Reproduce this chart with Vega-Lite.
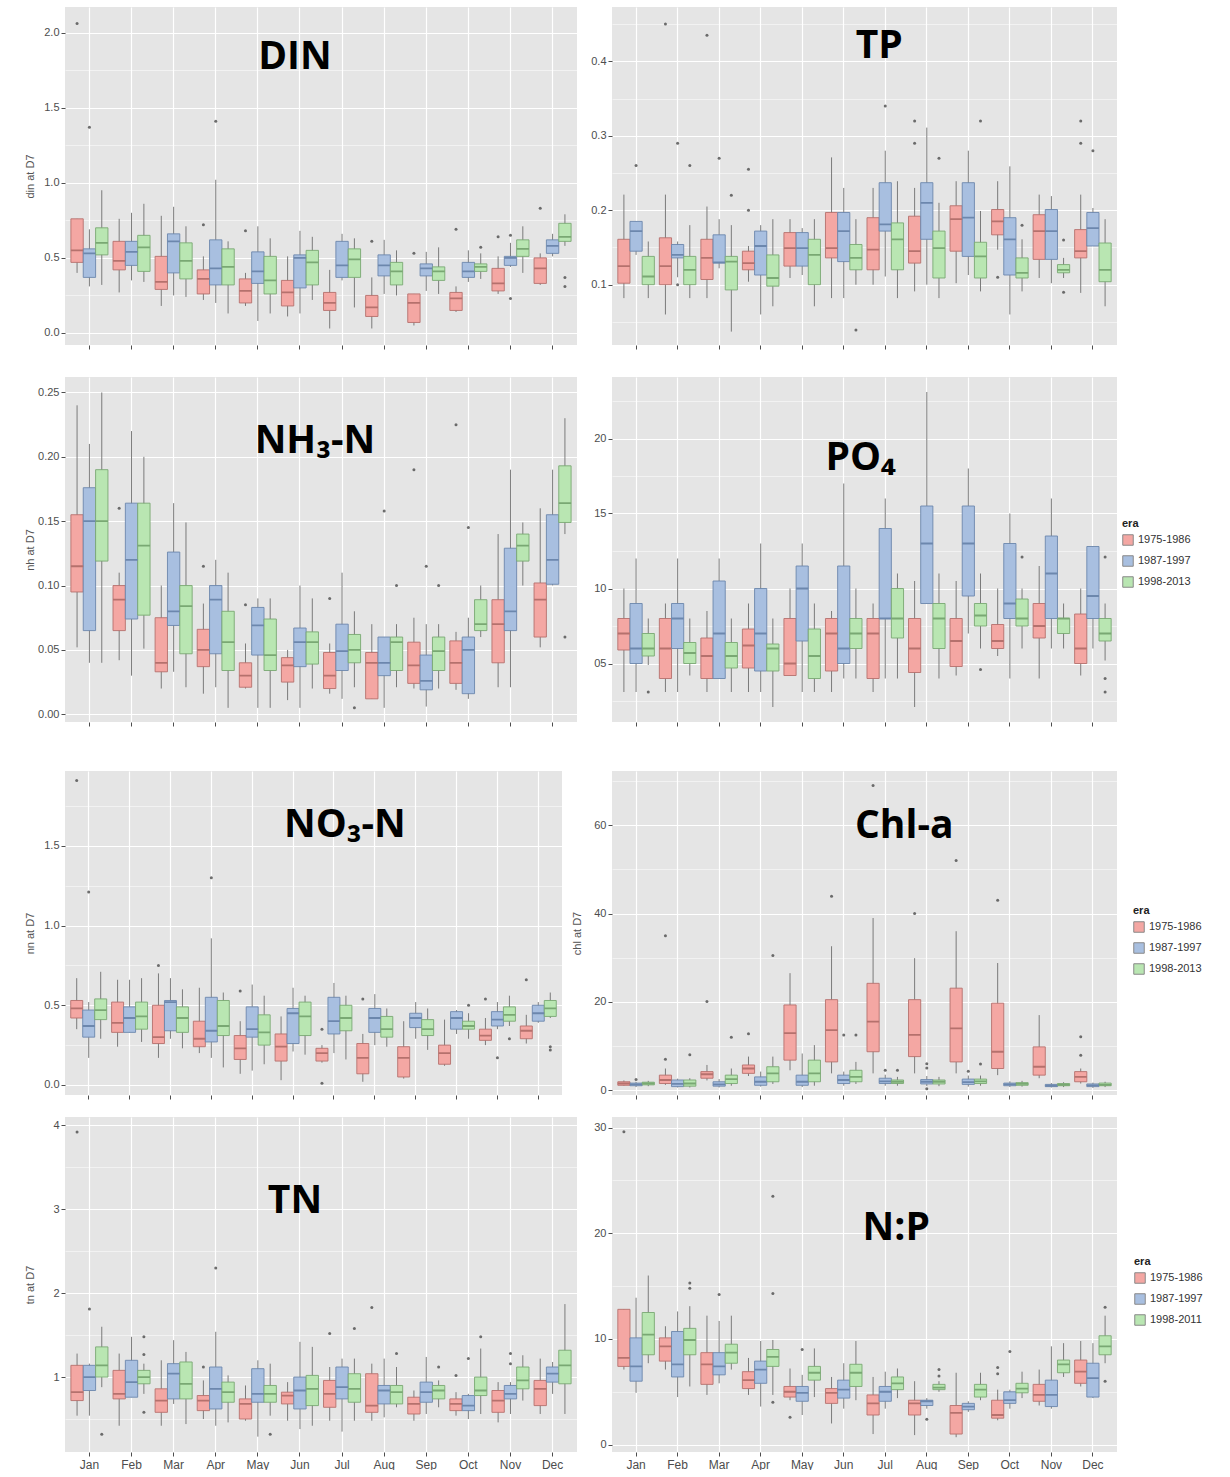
{
"$schema":"https://vega.github.io/schema/vega-lite/v6.json",
"background":"white",
"padding":{"left":24,"top":7,"right":0,"bottom":0},
"config":{
 "view":{"fill":"#E5E5E5","stroke":null},
 "axis":{"domain":false,"grid":true,"gridColor":"#FFFFFF","tickColor":"#4D4D4D","tickSize":4,"labelColor":"#4D4D4D","labelFont":"Liberation Sans","labelFontSize":11,"titleFont":"Liberation Sans","titleFontSize":11,"titleFontWeight":"normal","titleColor":"#555555","labelPadding":2},
 "axisY":{"minExtent":26,"maxExtent":26,"titlePadding":4},
 "axisX":{"gridWidth":1.2,"labels":false,"labelFontSize":12,"labelAngle":0,"labelOverlap":false},
 "legend":{"titleFont":"Liberation Sans","titleFontSize":11,"titleFontWeight":"bold","titleColor":"#222","labelFont":"Liberation Sans","labelFontSize":11,"labelColor":"#333","symbolType":"square","symbolSize":110,"symbolStrokeColor":"#888","symbolStrokeWidth":1,"rowPadding":5}
},
"datasets":{
"box":[
{"p":"DIN","m":"Jan","e":"1975-1986","lo":0.40,"q1":0.47,"md":0.55,"q3":0.76,"hi":0.76},
{"p":"DIN","m":"Jan","e":"1987-1997","lo":0.31,"q1":0.37,"md":0.53,"q3":0.56,"hi":0.69},
{"p":"DIN","m":"Jan","e":"1998-2013","lo":0.32,"q1":0.52,"md":0.60,"q3":0.70,"hi":0.95},
{"p":"DIN","m":"Feb","e":"1975-1986","lo":0.27,"q1":0.42,"md":0.48,"q3":0.61,"hi":0.76},
{"p":"DIN","m":"Feb","e":"1987-1997","lo":0.35,"q1":0.45,"md":0.54,"q3":0.61,"hi":0.80},
{"p":"DIN","m":"Feb","e":"1998-2013","lo":0.34,"q1":0.41,"md":0.57,"q3":0.65,"hi":0.86},
{"p":"DIN","m":"Mar","e":"1975-1986","lo":0.18,"q1":0.29,"md":0.34,"q3":0.51,"hi":0.78},
{"p":"DIN","m":"Mar","e":"1987-1997","lo":0.25,"q1":0.40,"md":0.61,"q3":0.66,"hi":0.84},
{"p":"DIN","m":"Mar","e":"1998-2013","lo":0.24,"q1":0.36,"md":0.48,"q3":0.60,"hi":0.71},
{"p":"DIN","m":"Apr","e":"1975-1986","lo":0.22,"q1":0.26,"md":0.36,"q3":0.42,"hi":0.51},
{"p":"DIN","m":"Apr","e":"1987-1997","lo":0.20,"q1":0.32,"md":0.43,"q3":0.62,"hi":1.02},
{"p":"DIN","m":"Apr","e":"1998-2013","lo":0.13,"q1":0.32,"md":0.44,"q3":0.56,"hi":0.61},
{"p":"DIN","m":"May","e":"1975-1986","lo":0.18,"q1":0.20,"md":0.28,"q3":0.36,"hi":0.40},
{"p":"DIN","m":"May","e":"1987-1997","lo":0.08,"q1":0.33,"md":0.41,"q3":0.54,"hi":0.71},
{"p":"DIN","m":"May","e":"1998-2013","lo":0.13,"q1":0.26,"md":0.35,"q3":0.51,"hi":0.63},
{"p":"DIN","m":"Jun","e":"1975-1986","lo":0.11,"q1":0.18,"md":0.27,"q3":0.35,"hi":0.51},
{"p":"DIN","m":"Jun","e":"1987-1997","lo":0.13,"q1":0.30,"md":0.50,"q3":0.52,"hi":0.68},
{"p":"DIN","m":"Jun","e":"1998-2013","lo":0.22,"q1":0.32,"md":0.47,"q3":0.55,"hi":0.64},
{"p":"DIN","m":"Jul","e":"1975-1986","lo":0.03,"q1":0.15,"md":0.20,"q3":0.27,"hi":0.42},
{"p":"DIN","m":"Jul","e":"1987-1997","lo":0.35,"q1":0.37,"md":0.45,"q3":0.61,"hi":0.66},
{"p":"DIN","m":"Jul","e":"1998-2013","lo":0.17,"q1":0.37,"md":0.49,"q3":0.56,"hi":0.63},
{"p":"DIN","m":"Aug","e":"1975-1986","lo":0.03,"q1":0.11,"md":0.17,"q3":0.25,"hi":0.37},
{"p":"DIN","m":"Aug","e":"1987-1997","lo":0.26,"q1":0.38,"md":0.45,"q3":0.52,"hi":0.62},
{"p":"DIN","m":"Aug","e":"1998-2013","lo":0.25,"q1":0.32,"md":0.41,"q3":0.47,"hi":0.55},
{"p":"DIN","m":"Sep","e":"1975-1986","lo":0.05,"q1":0.07,"md":0.20,"q3":0.26,"hi":0.26},
{"p":"DIN","m":"Sep","e":"1987-1997","lo":0.28,"q1":0.38,"md":0.43,"q3":0.46,"hi":0.54},
{"p":"DIN","m":"Sep","e":"1998-2013","lo":0.26,"q1":0.35,"md":0.41,"q3":0.44,"hi":0.57},
{"p":"DIN","m":"Oct","e":"1975-1986","lo":0.14,"q1":0.15,"md":0.23,"q3":0.27,"hi":0.31},
{"p":"DIN","m":"Oct","e":"1987-1997","lo":0.34,"q1":0.37,"md":0.41,"q3":0.47,"hi":0.55},
{"p":"DIN","m":"Oct","e":"1998-2013","lo":0.36,"q1":0.41,"md":0.44,"q3":0.46,"hi":0.53},
{"p":"DIN","m":"Nov","e":"1975-1986","lo":0.26,"q1":0.28,"md":0.33,"q3":0.43,"hi":0.51},
{"p":"DIN","m":"Nov","e":"1987-1997","lo":0.44,"q1":0.45,"md":0.50,"q3":0.51,"hi":0.60},
{"p":"DIN","m":"Nov","e":"1998-2013","lo":0.40,"q1":0.51,"md":0.56,"q3":0.62,"hi":0.71},
{"p":"DIN","m":"Dec","e":"1975-1986","lo":0.32,"q1":0.33,"md":0.43,"q3":0.50,"hi":0.53},
{"p":"DIN","m":"Dec","e":"1987-1997","lo":0.51,"q1":0.53,"md":0.58,"q3":0.62,"hi":0.66},
{"p":"DIN","m":"Dec","e":"1998-2013","lo":0.58,"q1":0.61,"md":0.64,"q3":0.73,"hi":0.79},
{"p":"TP","m":"Jan","e":"1975-1986","lo":0.082,"q1":0.102,"md":0.125,"q3":0.161,"hi":0.221},
{"p":"TP","m":"Jan","e":"1987-1997","lo":0.140,"q1":0.145,"md":0.172,"q3":0.185,"hi":0.185},
{"p":"TP","m":"Jan","e":"1998-2013","lo":0.082,"q1":0.100,"md":0.111,"q3":0.138,"hi":0.158},
{"p":"TP","m":"Feb","e":"1975-1986","lo":0.060,"q1":0.100,"md":0.125,"q3":0.163,"hi":0.221},
{"p":"TP","m":"Feb","e":"1987-1997","lo":0.110,"q1":0.136,"md":0.140,"q3":0.154,"hi":0.158},
{"p":"TP","m":"Feb","e":"1998-2013","lo":0.082,"q1":0.100,"md":0.120,"q3":0.138,"hi":0.180},
{"p":"TP","m":"Mar","e":"1975-1986","lo":0.082,"q1":0.107,"md":0.136,"q3":0.161,"hi":0.205},
{"p":"TP","m":"Mar","e":"1987-1997","lo":0.122,"q1":0.129,"md":0.130,"q3":0.167,"hi":0.188},
{"p":"TP","m":"Mar","e":"1998-2013","lo":0.037,"q1":0.093,"md":0.131,"q3":0.138,"hi":0.180},
{"p":"TP","m":"Apr","e":"1975-1986","lo":0.104,"q1":0.120,"md":0.129,"q3":0.145,"hi":0.152},
{"p":"TP","m":"Apr","e":"1987-1997","lo":0.060,"q1":0.113,"md":0.152,"q3":0.172,"hi":0.180},
{"p":"TP","m":"Apr","e":"1998-2013","lo":0.071,"q1":0.098,"md":0.109,"q3":0.140,"hi":0.188},
{"p":"TP","m":"May","e":"1975-1986","lo":0.109,"q1":0.125,"md":0.149,"q3":0.170,"hi":0.188},
{"p":"TP","m":"May","e":"1987-1997","lo":0.113,"q1":0.125,"md":0.149,"q3":0.170,"hi":0.176},
{"p":"TP","m":"May","e":"1998-2013","lo":0.071,"q1":0.100,"md":0.140,"q3":0.161,"hi":0.188},
{"p":"TP","m":"Jun","e":"1975-1986","lo":0.082,"q1":0.136,"md":0.149,"q3":0.197,"hi":0.271},
{"p":"TP","m":"Jun","e":"1987-1997","lo":0.082,"q1":0.131,"md":0.172,"q3":0.197,"hi":0.230},
{"p":"TP","m":"Jun","e":"1998-2013","lo":0.100,"q1":0.120,"md":0.136,"q3":0.154,"hi":0.188},
{"p":"TP","m":"Jul","e":"1975-1986","lo":0.100,"q1":0.120,"md":0.147,"q3":0.190,"hi":0.230},
{"p":"TP","m":"Jul","e":"1987-1997","lo":0.111,"q1":0.172,"md":0.181,"q3":0.237,"hi":0.280},
{"p":"TP","m":"Jul","e":"1998-2013","lo":0.082,"q1":0.120,"md":0.161,"q3":0.183,"hi":0.239},
{"p":"TP","m":"Aug","e":"1975-1986","lo":0.091,"q1":0.129,"md":0.145,"q3":0.192,"hi":0.230},
{"p":"TP","m":"Aug","e":"1987-1997","lo":0.100,"q1":0.161,"md":0.210,"q3":0.237,"hi":0.311},
{"p":"TP","m":"Aug","e":"1998-2013","lo":0.082,"q1":0.109,"md":0.149,"q3":0.172,"hi":0.210},
{"p":"TP","m":"Sep","e":"1975-1986","lo":0.102,"q1":0.145,"md":0.188,"q3":0.206,"hi":0.239},
{"p":"TP","m":"Sep","e":"1987-1997","lo":0.113,"q1":0.138,"md":0.190,"q3":0.237,"hi":0.280},
{"p":"TP","m":"Sep","e":"1998-2013","lo":0.091,"q1":0.109,"md":0.138,"q3":0.157,"hi":0.199},
{"p":"TP","m":"Oct","e":"1975-1986","lo":0.147,"q1":0.167,"md":0.185,"q3":0.201,"hi":0.239},
{"p":"TP","m":"Oct","e":"1987-1997","lo":0.060,"q1":0.113,"md":0.161,"q3":0.190,"hi":0.259},
{"p":"TP","m":"Oct","e":"1998-2013","lo":0.091,"q1":0.109,"md":0.116,"q3":0.136,"hi":0.161},
{"p":"TP","m":"Nov","e":"1975-1986","lo":0.109,"q1":0.134,"md":0.172,"q3":0.194,"hi":0.221},
{"p":"TP","m":"Nov","e":"1987-1997","lo":0.102,"q1":0.134,"md":0.172,"q3":0.201,"hi":0.219},
{"p":"TP","m":"Nov","e":"1998-2013","lo":0.109,"q1":0.116,"md":0.120,"q3":0.127,"hi":0.136},
{"p":"TP","m":"Dec","e":"1975-1986","lo":0.089,"q1":0.136,"md":0.145,"q3":0.174,"hi":0.221},
{"p":"TP","m":"Dec","e":"1987-1997","lo":0.152,"q1":0.152,"md":0.176,"q3":0.197,"hi":0.203},
{"p":"TP","m":"Dec","e":"1998-2013","lo":0.071,"q1":0.104,"md":0.120,"q3":0.156,"hi":0.188},
{"p":"NH3","m":"Jan","e":"1975-1986","lo":0.052,"q1":0.095,"md":0.115,"q3":0.155,"hi":0.240},
{"p":"NH3","m":"Jan","e":"1987-1997","lo":0.040,"q1":0.065,"md":0.150,"q3":0.176,"hi":0.210},
{"p":"NH3","m":"Jan","e":"1998-2013","lo":0.040,"q1":0.119,"md":0.150,"q3":0.190,"hi":0.250},
{"p":"NH3","m":"Feb","e":"1975-1986","lo":0.042,"q1":0.065,"md":0.089,"q3":0.100,"hi":0.110},
{"p":"NH3","m":"Feb","e":"1987-1997","lo":0.030,"q1":0.074,"md":0.120,"q3":0.164,"hi":0.220},
{"p":"NH3","m":"Feb","e":"1998-2013","lo":0.051,"q1":0.077,"md":0.131,"q3":0.164,"hi":0.200},
{"p":"NH3","m":"Mar","e":"1975-1986","lo":0.020,"q1":0.033,"md":0.040,"q3":0.075,"hi":0.100},
{"p":"NH3","m":"Mar","e":"1987-1997","lo":0.033,"q1":0.069,"md":0.080,"q3":0.126,"hi":0.164},
{"p":"NH3","m":"Mar","e":"1998-2013","lo":0.021,"q1":0.047,"md":0.084,"q3":0.100,"hi":0.149},
{"p":"NH3","m":"Apr","e":"1975-1986","lo":0.016,"q1":0.037,"md":0.050,"q3":0.066,"hi":0.086},
{"p":"NH3","m":"Apr","e":"1987-1997","lo":0.021,"q1":0.047,"md":0.089,"q3":0.100,"hi":0.120},
{"p":"NH3","m":"Apr","e":"1998-2013","lo":0.005,"q1":0.034,"md":0.056,"q3":0.080,"hi":0.110},
{"p":"NH3","m":"May","e":"1975-1986","lo":0.020,"q1":0.021,"md":0.030,"q3":0.040,"hi":0.055},
{"p":"NH3","m":"May","e":"1987-1997","lo":0.005,"q1":0.046,"md":0.069,"q3":0.083,"hi":0.090},
{"p":"NH3","m":"May","e":"1998-2013","lo":0.005,"q1":0.034,"md":0.046,"q3":0.074,"hi":0.090},
{"p":"NH3","m":"Jun","e":"1975-1986","lo":0.011,"q1":0.025,"md":0.038,"q3":0.044,"hi":0.050},
{"p":"NH3","m":"Jun","e":"1987-1997","lo":0.005,"q1":0.037,"md":0.056,"q3":0.067,"hi":0.100},
{"p":"NH3","m":"Jun","e":"1998-2013","lo":0.020,"q1":0.039,"md":0.056,"q3":0.064,"hi":0.090},
{"p":"NH3","m":"Jul","e":"1975-1986","lo":0.016,"q1":0.020,"md":0.030,"q3":0.048,"hi":0.055},
{"p":"NH3","m":"Jul","e":"1987-1997","lo":0.012,"q1":0.034,"md":0.049,"q3":0.070,"hi":0.110},
{"p":"NH3","m":"Jul","e":"1998-2013","lo":0.021,"q1":0.040,"md":0.050,"q3":0.062,"hi":0.080},
{"p":"NH3","m":"Aug","e":"1975-1986","lo":0.012,"q1":0.012,"md":0.040,"q3":0.048,"hi":0.070},
{"p":"NH3","m":"Aug","e":"1987-1997","lo":0.005,"q1":0.030,"md":0.040,"q3":0.060,"hi":0.060},
{"p":"NH3","m":"Aug","e":"1998-2013","lo":0.021,"q1":0.034,"md":0.056,"q3":0.060,"hi":0.070},
{"p":"NH3","m":"Sep","e":"1975-1986","lo":0.020,"q1":0.024,"md":0.038,"q3":0.056,"hi":0.075},
{"p":"NH3","m":"Sep","e":"1987-1997","lo":0.006,"q1":0.019,"md":0.026,"q3":0.046,"hi":0.070},
{"p":"NH3","m":"Sep","e":"1998-2013","lo":0.020,"q1":0.034,"md":0.049,"q3":0.060,"hi":0.070},
{"p":"NH3","m":"Oct","e":"1975-1986","lo":0.019,"q1":0.024,"md":0.040,"q3":0.057,"hi":0.064},
{"p":"NH3","m":"Oct","e":"1987-1997","lo":0.012,"q1":0.016,"md":0.050,"q3":0.060,"hi":0.075},
{"p":"NH3","m":"Oct","e":"1998-2013","lo":0.060,"q1":0.065,"md":0.070,"q3":0.089,"hi":0.100},
{"p":"NH3","m":"Nov","e":"1975-1986","lo":0.021,"q1":0.040,"md":0.070,"q3":0.089,"hi":0.140},
{"p":"NH3","m":"Nov","e":"1987-1997","lo":0.021,"q1":0.065,"md":0.080,"q3":0.129,"hi":0.190},
{"p":"NH3","m":"Nov","e":"1998-2013","lo":0.100,"q1":0.119,"md":0.131,"q3":0.140,"hi":0.149},
{"p":"NH3","m":"Dec","e":"1975-1986","lo":0.052,"q1":0.060,"md":0.089,"q3":0.102,"hi":0.160},
{"p":"NH3","m":"Dec","e":"1987-1997","lo":0.100,"q1":0.101,"md":0.120,"q3":0.155,"hi":0.190},
{"p":"NH3","m":"Dec","e":"1998-2013","lo":0.140,"q1":0.149,"md":0.164,"q3":0.193,"hi":0.230},
{"p":"PO4","m":"Jan","e":"1975-1986","lo":3.1,"q1":5.9,"md":7.0,"q3":8.0,"hi":10.0},
{"p":"PO4","m":"Jan","e":"1987-1997","lo":3.1,"q1":5.0,"md":6.0,"q3":9.0,"hi":12.0},
{"p":"PO4","m":"Jan","e":"1998-2013","lo":4.9,"q1":5.5,"md":6.0,"q3":7.0,"hi":8.0},
{"p":"PO4","m":"Feb","e":"1975-1986","lo":3.1,"q1":4.0,"md":6.0,"q3":8.0,"hi":9.0},
{"p":"PO4","m":"Feb","e":"1987-1997","lo":3.1,"q1":6.0,"md":8.0,"q3":9.0,"hi":12.0},
{"p":"PO4","m":"Feb","e":"1998-2013","lo":4.2,"q1":5.0,"md":5.7,"q3":6.4,"hi":8.0},
{"p":"PO4","m":"Mar","e":"1975-1986","lo":3.1,"q1":4.0,"md":5.5,"q3":6.7,"hi":8.5},
{"p":"PO4","m":"Mar","e":"1987-1997","lo":4.0,"q1":4.0,"md":7.0,"q3":10.5,"hi":12.0},
{"p":"PO4","m":"Mar","e":"1998-2013","lo":3.1,"q1":4.7,"md":5.5,"q3":6.4,"hi":8.0},
{"p":"PO4","m":"Apr","e":"1975-1986","lo":3.1,"q1":4.7,"md":6.2,"q3":7.3,"hi":9.0},
{"p":"PO4","m":"Apr","e":"1987-1997","lo":3.1,"q1":4.5,"md":7.0,"q3":10.0,"hi":13.0},
{"p":"PO4","m":"Apr","e":"1998-2013","lo":2.1,"q1":4.5,"md":6.0,"q3":6.3,"hi":8.0},
{"p":"PO4","m":"May","e":"1975-1986","lo":4.2,"q1":4.2,"md":5.0,"q3":8.0,"hi":10.0},
{"p":"PO4","m":"May","e":"1987-1997","lo":3.1,"q1":6.5,"md":10.0,"q3":11.5,"hi":13.0},
{"p":"PO4","m":"May","e":"1998-2013","lo":3.1,"q1":4.0,"md":5.5,"q3":7.3,"hi":9.0},
{"p":"PO4","m":"Jun","e":"1975-1986","lo":3.1,"q1":4.5,"md":7.0,"q3":8.0,"hi":8.5},
{"p":"PO4","m":"Jun","e":"1987-1997","lo":4.0,"q1":5.0,"md":6.0,"q3":11.5,"hi":17.0},
{"p":"PO4","m":"Jun","e":"1998-2013","lo":4.0,"q1":6.0,"md":7.0,"q3":8.0,"hi":10.0},
{"p":"PO4","m":"Jul","e":"1975-1986","lo":3.1,"q1":4.0,"md":7.0,"q3":8.0,"hi":9.0},
{"p":"PO4","m":"Jul","e":"1987-1997","lo":4.0,"q1":8.0,"md":8.0,"q3":14.0,"hi":16.0},
{"p":"PO4","m":"Jul","e":"1998-2013","lo":4.0,"q1":6.7,"md":8.0,"q3":10.0,"hi":11.0},
{"p":"PO4","m":"Aug","e":"1975-1986","lo":2.1,"q1":4.4,"md":6.0,"q3":8.0,"hi":10.5},
{"p":"PO4","m":"Aug","e":"1987-1997","lo":9.0,"q1":9.0,"md":13.0,"q3":15.5,"hi":23.1},
{"p":"PO4","m":"Aug","e":"1998-2013","lo":4.0,"q1":6.0,"md":8.0,"q3":9.0,"hi":11.0},
{"p":"PO4","m":"Sep","e":"1975-1986","lo":4.2,"q1":4.8,"md":6.5,"q3":8.0,"hi":10.5},
{"p":"PO4","m":"Sep","e":"1987-1997","lo":7.0,"q1":9.5,"md":13.0,"q3":15.5,"hi":18.0},
{"p":"PO4","m":"Sep","e":"1998-2013","lo":6.0,"q1":7.5,"md":8.2,"q3":9.0,"hi":11.0},
{"p":"PO4","m":"Oct","e":"1975-1986","lo":5.5,"q1":6.0,"md":6.5,"q3":7.6,"hi":10.0},
{"p":"PO4","m":"Oct","e":"1987-1997","lo":4.0,"q1":8.0,"md":9.0,"q3":13.0,"hi":15.0},
{"p":"PO4","m":"Oct","e":"1998-2013","lo":6.0,"q1":7.5,"md":8.0,"q3":9.3,"hi":10.0},
{"p":"PO4","m":"Nov","e":"1975-1986","lo":4.0,"q1":6.7,"md":7.5,"q3":9.0,"hi":11.5},
{"p":"PO4","m":"Nov","e":"1987-1997","lo":6.0,"q1":8.0,"md":11.0,"q3":13.5,"hi":16.0},
{"p":"PO4","m":"Nov","e":"1998-2013","lo":6.0,"q1":7.0,"md":8.0,"q3":8.0,"hi":9.0},
{"p":"PO4","m":"Dec","e":"1975-1986","lo":4.2,"q1":5.0,"md":6.0,"q3":8.3,"hi":10.0},
{"p":"PO4","m":"Dec","e":"1987-1997","lo":6.0,"q1":8.0,"md":9.5,"q3":12.8,"hi":12.8},
{"p":"PO4","m":"Dec","e":"1998-2013","lo":5.2,"q1":6.5,"md":7.0,"q3":8.0,"hi":9.0},
{"p":"NO3","m":"Jan","e":"1975-1986","lo":0.35,"q1":0.42,"md":0.48,"q3":0.53,"hi":0.67},
{"p":"NO3","m":"Jan","e":"1987-1997","lo":0.17,"q1":0.30,"md":0.37,"q3":0.47,"hi":0.52},
{"p":"NO3","m":"Jan","e":"1998-2013","lo":0.29,"q1":0.41,"md":0.47,"q3":0.54,"hi":0.71},
{"p":"NO3","m":"Feb","e":"1975-1986","lo":0.24,"q1":0.33,"md":0.39,"q3":0.52,"hi":0.66},
{"p":"NO3","m":"Feb","e":"1987-1997","lo":0.33,"q1":0.33,"md":0.42,"q3":0.49,"hi":0.66},
{"p":"NO3","m":"Feb","e":"1998-2013","lo":0.27,"q1":0.35,"md":0.43,"q3":0.52,"hi":0.67},
{"p":"NO3","m":"Mar","e":"1975-1986","lo":0.17,"q1":0.26,"md":0.30,"q3":0.50,"hi":0.70},
{"p":"NO3","m":"Mar","e":"1987-1997","lo":0.29,"q1":0.34,"md":0.52,"q3":0.53,"hi":0.67},
{"p":"NO3","m":"Mar","e":"1998-2013","lo":0.23,"q1":0.33,"md":0.42,"q3":0.49,"hi":0.60},
{"p":"NO3","m":"Apr","e":"1975-1986","lo":0.20,"q1":0.24,"md":0.29,"q3":0.40,"hi":0.61},
{"p":"NO3","m":"Apr","e":"1987-1997","lo":0.17,"q1":0.27,"md":0.34,"q3":0.55,"hi":0.92},
{"p":"NO3","m":"Apr","e":"1998-2013","lo":0.11,"q1":0.31,"md":0.37,"q3":0.53,"hi":0.58},
{"p":"NO3","m":"May","e":"1975-1986","lo":0.07,"q1":0.16,"md":0.23,"q3":0.31,"hi":0.40},
{"p":"NO3","m":"May","e":"1987-1997","lo":0.09,"q1":0.30,"md":0.35,"q3":0.49,"hi":0.63},
{"p":"NO3","m":"May","e":"1998-2013","lo":0.13,"q1":0.25,"md":0.33,"q3":0.44,"hi":0.56},
{"p":"NO3","m":"Jun","e":"1975-1986","lo":0.03,"q1":0.15,"md":0.24,"q3":0.32,"hi":0.43},
{"p":"NO3","m":"Jun","e":"1987-1997","lo":0.21,"q1":0.26,"md":0.45,"q3":0.48,"hi":0.61},
{"p":"NO3","m":"Jun","e":"1998-2013","lo":0.19,"q1":0.31,"md":0.43,"q3":0.52,"hi":0.56},
{"p":"NO3","m":"Jul","e":"1975-1986","lo":0.14,"q1":0.15,"md":0.20,"q3":0.23,"hi":0.25},
{"p":"NO3","m":"Jul","e":"1987-1997","lo":0.20,"q1":0.32,"md":0.40,"q3":0.55,"hi":0.64},
{"p":"NO3","m":"Jul","e":"1998-2013","lo":0.16,"q1":0.34,"md":0.42,"q3":0.50,"hi":0.56},
{"p":"NO3","m":"Aug","e":"1975-1986","lo":0.02,"q1":0.07,"md":0.17,"q3":0.26,"hi":0.32},
{"p":"NO3","m":"Aug","e":"1987-1997","lo":0.25,"q1":0.33,"md":0.42,"q3":0.48,"hi":0.57},
{"p":"NO3","m":"Aug","e":"1998-2013","lo":0.24,"q1":0.30,"md":0.35,"q3":0.43,"hi":0.48},
{"p":"NO3","m":"Sep","e":"1975-1986","lo":0.04,"q1":0.05,"md":0.17,"q3":0.24,"hi":0.40},
{"p":"NO3","m":"Sep","e":"1987-1997","lo":0.29,"q1":0.36,"md":0.42,"q3":0.45,"hi":0.52},
{"p":"NO3","m":"Sep","e":"1998-2013","lo":0.22,"q1":0.31,"md":0.35,"q3":0.41,"hi":0.48},
{"p":"NO3","m":"Oct","e":"1975-1986","lo":0.12,"q1":0.13,"md":0.20,"q3":0.25,"hi":0.41},
{"p":"NO3","m":"Oct","e":"1987-1997","lo":0.32,"q1":0.35,"md":0.42,"q3":0.46,"hi":0.47},
{"p":"NO3","m":"Oct","e":"1998-2013","lo":0.29,"q1":0.35,"md":0.37,"q3":0.40,"hi":0.45},
{"p":"NO3","m":"Nov","e":"1975-1986","lo":0.25,"q1":0.28,"md":0.31,"q3":0.35,"hi":0.42},
{"p":"NO3","m":"Nov","e":"1987-1997","lo":0.35,"q1":0.37,"md":0.41,"q3":0.46,"hi":0.52},
{"p":"NO3","m":"Nov","e":"1998-2013","lo":0.37,"q1":0.40,"md":0.44,"q3":0.49,"hi":0.56},
{"p":"NO3","m":"Dec","e":"1975-1986","lo":0.26,"q1":0.29,"md":0.34,"q3":0.37,"hi":0.44},
{"p":"NO3","m":"Dec","e":"1987-1997","lo":0.39,"q1":0.40,"md":0.45,"q3":0.50,"hi":0.52},
{"p":"NO3","m":"Dec","e":"1998-2013","lo":0.42,"q1":0.43,"md":0.48,"q3":0.53,"hi":0.58},
{"p":"CHL","m":"Jan","e":"1975-1986","lo":1.0,"q1":1.1,"md":1.5,"q3":1.9,"hi":2.2},
{"p":"CHL","m":"Jan","e":"1987-1997","lo":0.7,"q1":1.0,"md":1.3,"q3":1.6,"hi":1.9},
{"p":"CHL","m":"Jan","e":"1998-2013","lo":0.9,"q1":1.2,"md":1.5,"q3":1.8,"hi":2.1},
{"p":"CHL","m":"Feb","e":"1975-1986","lo":1.2,"q1":1.5,"md":2.3,"q3":3.4,"hi":4.9},
{"p":"CHL","m":"Feb","e":"1987-1997","lo":0.6,"q1":0.8,"md":1.4,"q3":2.3,"hi":2.6},
{"p":"CHL","m":"Feb","e":"1998-2013","lo":0.6,"q1":0.9,"md":1.5,"q3":2.3,"hi":2.7},
{"p":"CHL","m":"Mar","e":"1975-1986","lo":2.2,"q1":2.7,"md":3.6,"q3":4.2,"hi":5.7},
{"p":"CHL","m":"Mar","e":"1987-1997","lo":0.6,"q1":0.9,"md":1.3,"q3":1.9,"hi":2.5},
{"p":"CHL","m":"Mar","e":"1998-2013","lo":1.0,"q1":1.5,"md":2.5,"q3":3.4,"hi":4.9},
{"p":"CHL","m":"Apr","e":"1975-1986","lo":3.2,"q1":3.8,"md":4.9,"q3":5.7,"hi":7.6},
{"p":"CHL","m":"Apr","e":"1987-1997","lo":0.8,"q1":1.1,"md":1.9,"q3":3.0,"hi":4.2},
{"p":"CHL","m":"Apr","e":"1998-2013","lo":1.4,"q1":1.9,"md":3.8,"q3":5.3,"hi":7.6},
{"p":"CHL","m":"May","e":"1975-1986","lo":4.5,"q1":6.8,"md":12.9,"q3":19.3,"hi":26.5},
{"p":"CHL","m":"May","e":"1987-1997","lo":0.7,"q1":1.1,"md":1.9,"q3":3.4,"hi":8.3},
{"p":"CHL","m":"May","e":"1998-2013","lo":1.0,"q1":1.9,"md":3.8,"q3":6.8,"hi":10.2},
{"p":"CHL","m":"Jun","e":"1975-1986","lo":3.8,"q1":6.4,"md":13.6,"q3":20.5,"hi":32.6},
{"p":"CHL","m":"Jun","e":"1987-1997","lo":1.0,"q1":1.5,"md":2.3,"q3":3.4,"hi":4.2},
{"p":"CHL","m":"Jun","e":"1998-2013","lo":1.4,"q1":1.9,"md":3.0,"q3":4.5,"hi":6.4},
{"p":"CHL","m":"Jul","e":"1975-1986","lo":3.8,"q1":8.7,"md":15.5,"q3":24.2,"hi":39.0},
{"p":"CHL","m":"Jul","e":"1987-1997","lo":1.0,"q1":1.5,"md":2.0,"q3":2.7,"hi":3.5},
{"p":"CHL","m":"Jul","e":"1998-2013","lo":1.0,"q1":1.5,"md":1.9,"q3":2.3,"hi":3.0},
{"p":"CHL","m":"Aug","e":"1975-1986","lo":3.8,"q1":7.6,"md":12.5,"q3":20.5,"hi":29.9},
{"p":"CHL","m":"Aug","e":"1987-1997","lo":0.9,"q1":1.4,"md":1.9,"q3":2.4,"hi":3.2},
{"p":"CHL","m":"Aug","e":"1998-2013","lo":0.9,"q1":1.4,"md":1.9,"q3":2.3,"hi":3.0},
{"p":"CHL","m":"Sep","e":"1975-1986","lo":3.8,"q1":6.4,"md":14.0,"q3":23.1,"hi":36.0},
{"p":"CHL","m":"Sep","e":"1987-1997","lo":0.8,"q1":1.3,"md":1.8,"q3":2.5,"hi":3.3},
{"p":"CHL","m":"Sep","e":"1998-2013","lo":1.0,"q1":1.5,"md":2.0,"q3":2.5,"hi":3.3},
{"p":"CHL","m":"Oct","e":"1975-1986","lo":3.4,"q1":4.9,"md":8.7,"q3":19.7,"hi":28.8},
{"p":"CHL","m":"Oct","e":"1987-1997","lo":0.7,"q1":1.0,"md":1.3,"q3":1.6,"hi":2.0},
{"p":"CHL","m":"Oct","e":"1998-2013","lo":0.8,"q1":1.1,"md":1.4,"q3":1.7,"hi":2.1},
{"p":"CHL","m":"Nov","e":"1975-1986","lo":2.7,"q1":3.4,"md":5.3,"q3":9.8,"hi":17.0},
{"p":"CHL","m":"Nov","e":"1987-1997","lo":0.6,"q1":0.8,"md":1.0,"q3":1.3,"hi":1.6},
{"p":"CHL","m":"Nov","e":"1998-2013","lo":0.7,"q1":1.0,"md":1.2,"q3":1.5,"hi":1.8},
{"p":"CHL","m":"Dec","e":"1975-1986","lo":1.5,"q1":1.9,"md":3.0,"q3":4.2,"hi":4.9},
{"p":"CHL","m":"Dec","e":"1987-1997","lo":0.5,"q1":0.8,"md":1.1,"q3":1.4,"hi":1.7},
{"p":"CHL","m":"Dec","e":"1998-2013","lo":0.7,"q1":1.0,"md":1.2,"q3":1.6,"hi":1.9},
{"p":"TN","m":"Jan","e":"1975-1986","lo":0.54,"q1":0.72,"md":0.82,"q3":1.14,"hi":1.28},
{"p":"TN","m":"Jan","e":"1987-1997","lo":0.54,"q1":0.84,"md":1.00,"q3":1.14,"hi":1.16},
{"p":"TN","m":"Jan","e":"1998-2013","lo":0.88,"q1":1.00,"md":1.14,"q3":1.36,"hi":1.60},
{"p":"TN","m":"Feb","e":"1975-1986","lo":0.42,"q1":0.74,"md":0.80,"q3":1.08,"hi":1.28},
{"p":"TN","m":"Feb","e":"1987-1997","lo":0.76,"q1":0.76,"md":0.94,"q3":1.20,"hi":1.48},
{"p":"TN","m":"Feb","e":"1998-2013","lo":0.80,"q1":0.92,"md":1.00,"q3":1.08,"hi":1.16},
{"p":"TN","m":"Mar","e":"1975-1986","lo":0.42,"q1":0.58,"md":0.72,"q3":0.86,"hi":1.20},
{"p":"TN","m":"Mar","e":"1987-1997","lo":0.68,"q1":0.74,"md":1.04,"q3":1.16,"hi":1.44},
{"p":"TN","m":"Mar","e":"1998-2013","lo":0.44,"q1":0.74,"md":0.92,"q3":1.18,"hi":1.30},
{"p":"TN","m":"Apr","e":"1975-1986","lo":0.50,"q1":0.60,"md":0.72,"q3":0.78,"hi":0.96},
{"p":"TN","m":"Apr","e":"1987-1997","lo":0.42,"q1":0.62,"md":0.86,"q3":1.12,"hi":1.54},
{"p":"TN","m":"Apr","e":"1998-2013","lo":0.46,"q1":0.70,"md":0.82,"q3":0.94,"hi":1.02},
{"p":"TN","m":"May","e":"1975-1986","lo":0.48,"q1":0.50,"md":0.68,"q3":0.74,"hi":0.90},
{"p":"TN","m":"May","e":"1987-1997","lo":0.29,"q1":0.70,"md":0.80,"q3":1.10,"hi":1.20},
{"p":"TN","m":"May","e":"1998-2013","lo":0.54,"q1":0.70,"md":0.80,"q3":0.90,"hi":1.16},
{"p":"TN","m":"Jun","e":"1975-1986","lo":0.48,"q1":0.68,"md":0.78,"q3":0.82,"hi":0.94},
{"p":"TN","m":"Jun","e":"1987-1997","lo":0.38,"q1":0.62,"md":0.84,"q3":1.00,"hi":1.42},
{"p":"TN","m":"Jun","e":"1998-2013","lo":0.42,"q1":0.66,"md":0.86,"q3":1.02,"hi":1.36},
{"p":"TN","m":"Jul","e":"1975-1986","lo":0.48,"q1":0.64,"md":0.80,"q3":0.96,"hi":1.12},
{"p":"TN","m":"Jul","e":"1987-1997","lo":0.35,"q1":0.74,"md":0.88,"q3":1.12,"hi":1.22},
{"p":"TN","m":"Jul","e":"1998-2013","lo":0.48,"q1":0.70,"md":0.86,"q3":1.04,"hi":1.22},
{"p":"TN","m":"Aug","e":"1975-1986","lo":0.48,"q1":0.58,"md":0.66,"q3":1.04,"hi":1.16},
{"p":"TN","m":"Aug","e":"1987-1997","lo":0.52,"q1":0.68,"md":0.84,"q3":0.90,"hi":1.22},
{"p":"TN","m":"Aug","e":"1998-2013","lo":0.64,"q1":0.68,"md":0.82,"q3":0.90,"hi":1.12},
{"p":"TN","m":"Sep","e":"1975-1986","lo":0.48,"q1":0.56,"md":0.68,"q3":0.76,"hi":0.84},
{"p":"TN","m":"Sep","e":"1987-1997","lo":0.56,"q1":0.70,"md":0.82,"q3":0.94,"hi":1.24},
{"p":"TN","m":"Sep","e":"1998-2013","lo":0.64,"q1":0.74,"md":0.84,"q3":0.90,"hi":0.96},
{"p":"TN","m":"Oct","e":"1975-1986","lo":0.54,"q1":0.60,"md":0.68,"q3":0.74,"hi":0.82},
{"p":"TN","m":"Oct","e":"1987-1997","lo":0.50,"q1":0.60,"md":0.66,"q3":0.78,"hi":0.80},
{"p":"TN","m":"Oct","e":"1998-2013","lo":0.56,"q1":0.78,"md":0.84,"q3":1.00,"hi":1.34},
{"p":"TN","m":"Nov","e":"1975-1986","lo":0.46,"q1":0.58,"md":0.72,"q3":0.84,"hi":0.94},
{"p":"TN","m":"Nov","e":"1987-1997","lo":0.56,"q1":0.74,"md":0.80,"q3":0.90,"hi":0.94},
{"p":"TN","m":"Nov","e":"1998-2013","lo":0.72,"q1":0.86,"md":0.96,"q3":1.12,"hi":1.26},
{"p":"TN","m":"Dec","e":"1975-1986","lo":0.56,"q1":0.66,"md":0.86,"q3":0.96,"hi":1.22},
{"p":"TN","m":"Dec","e":"1987-1997","lo":0.80,"q1":0.94,"md":1.04,"q3":1.12,"hi":1.18},
{"p":"TN","m":"Dec","e":"1998-2013","lo":0.56,"q1":0.92,"md":1.14,"q3":1.32,"hi":1.87},
{"p":"NP","m":"Jan","e":"1975-1986","lo":7.1,"q1":7.4,"md":8.2,"q3":12.8,"hi":12.8},
{"p":"NP","m":"Jan","e":"1987-1997","lo":4.9,"q1":6.0,"md":7.4,"q3":10.1,"hi":13.9},
{"p":"NP","m":"Jan","e":"1998-2011","lo":7.7,"q1":8.5,"md":10.4,"q3":12.5,"hi":16.0},
{"p":"NP","m":"Feb","e":"1975-1986","lo":7.1,"q1":7.9,"md":9.3,"q3":10.1,"hi":11.2},
{"p":"NP","m":"Feb","e":"1987-1997","lo":4.5,"q1":6.4,"md":7.6,"q3":10.7,"hi":12.6},
{"p":"NP","m":"Feb","e":"1998-2011","lo":5.5,"q1":8.5,"md":9.9,"q3":11.0,"hi":13.1},
{"p":"NP","m":"Mar","e":"1975-1986","lo":4.7,"q1":5.7,"md":7.6,"q3":8.7,"hi":12.2},
{"p":"NP","m":"Mar","e":"1987-1997","lo":5.8,"q1":6.6,"md":7.4,"q3":8.7,"hi":11.7},
{"p":"NP","m":"Mar","e":"1998-2011","lo":7.1,"q1":7.7,"md":8.7,"q3":9.5,"hi":12.2},
{"p":"NP","m":"Apr","e":"1975-1986","lo":4.7,"q1":5.3,"md":6.1,"q3":6.9,"hi":8.2},
{"p":"NP","m":"Apr","e":"1987-1997","lo":3.6,"q1":5.8,"md":7.1,"q3":7.9,"hi":9.8},
{"p":"NP","m":"Apr","e":"1998-2011","lo":4.7,"q1":7.4,"md":8.3,"q3":9.0,"hi":9.9},
{"p":"NP","m":"May","e":"1975-1986","lo":4.2,"q1":4.5,"md":5.0,"q3":5.5,"hi":7.2},
{"p":"NP","m":"May","e":"1987-1997","lo":2.8,"q1":4.1,"md":4.9,"q3":5.5,"hi":6.6},
{"p":"NP","m":"May","e":"1998-2011","lo":4.5,"q1":6.1,"md":6.8,"q3":7.4,"hi":9.1},
{"p":"NP","m":"Jun","e":"1975-1986","lo":2.0,"q1":3.9,"md":4.9,"q3":5.3,"hi":6.4},
{"p":"NP","m":"Jun","e":"1987-1997","lo":3.4,"q1":4.4,"md":5.2,"q3":6.1,"hi":7.7},
{"p":"NP","m":"Jun","e":"1998-2011","lo":4.2,"q1":5.5,"md":6.8,"q3":7.6,"hi":9.8},
{"p":"NP","m":"Jul","e":"1975-1986","lo":1.0,"q1":2.8,"md":3.9,"q3":4.7,"hi":6.4},
{"p":"NP","m":"Jul","e":"1987-1997","lo":3.4,"q1":4.1,"md":5.0,"q3":5.5,"hi":6.9},
{"p":"NP","m":"Jul","e":"1998-2011","lo":4.4,"q1":5.2,"md":5.8,"q3":6.4,"hi":7.2},
{"p":"NP","m":"Aug","e":"1975-1986","lo":0.9,"q1":2.8,"md":3.9,"q3":4.2,"hi":6.0},
{"p":"NP","m":"Aug","e":"1987-1997","lo":3.4,"q1":3.7,"md":4.1,"q3":4.2,"hi":4.4},
{"p":"NP","m":"Aug","e":"1998-2011","lo":5.0,"q1":5.2,"md":5.4,"q3":5.7,"hi":6.0},
{"p":"NP","m":"Sep","e":"1975-1986","lo":0.7,"q1":1.0,"md":3.0,"q3":3.7,"hi":6.8},
{"p":"NP","m":"Sep","e":"1987-1997","lo":3.1,"q1":3.3,"md":3.6,"q3":3.9,"hi":4.1},
{"p":"NP","m":"Sep","e":"1998-2011","lo":4.2,"q1":4.5,"md":5.2,"q3":5.7,"hi":6.8},
{"p":"NP","m":"Oct","e":"1975-1986","lo":2.3,"q1":2.5,"md":2.8,"q3":4.2,"hi":5.2},
{"p":"NP","m":"Oct","e":"1987-1997","lo":3.4,"q1":3.9,"md":4.2,"q3":5.0,"hi":5.2},
{"p":"NP","m":"Oct","e":"1998-2011","lo":4.4,"q1":4.9,"md":5.3,"q3":5.8,"hi":6.9},
{"p":"NP","m":"Nov","e":"1975-1986","lo":3.7,"q1":4.1,"md":4.7,"q3":5.7,"hi":7.1},
{"p":"NP","m":"Nov","e":"1987-1997","lo":3.4,"q1":3.6,"md":4.7,"q3":6.1,"hi":9.3},
{"p":"NP","m":"Nov","e":"1998-2011","lo":6.4,"q1":6.8,"md":7.6,"q3":8.0,"hi":9.6},
{"p":"NP","m":"Dec","e":"1975-1986","lo":5.5,"q1":5.8,"md":6.9,"q3":8.0,"hi":9.8},
{"p":"NP","m":"Dec","e":"1987-1997","lo":4.4,"q1":4.5,"md":6.3,"q3":7.7,"hi":9.6},
{"p":"NP","m":"Dec","e":"1998-2011","lo":7.7,"q1":8.5,"md":9.3,"q3":10.3,"hi":12.2}
],
"out":[
{"p":"DIN","m":"Jan","e":"1975-1986","v":2.06},{"p":"DIN","m":"Jan","e":"1987-1997","v":1.37},
{"p":"DIN","m":"Apr","e":"1975-1986","v":0.72},{"p":"DIN","m":"Apr","e":"1987-1997","v":1.41},
{"p":"DIN","m":"May","e":"1975-1986","v":0.68},{"p":"DIN","m":"Aug","e":"1975-1986","v":0.61},
{"p":"DIN","m":"Sep","e":"1975-1986","v":0.53},{"p":"DIN","m":"Oct","e":"1975-1986","v":0.69},
{"p":"DIN","m":"Oct","e":"1998-2013","v":0.57},{"p":"DIN","m":"Nov","e":"1975-1986","v":0.64},
{"p":"DIN","m":"Nov","e":"1987-1997","v":0.65},{"p":"DIN","m":"Nov","e":"1987-1997","v":0.23},
{"p":"DIN","m":"Dec","e":"1975-1986","v":0.83},{"p":"DIN","m":"Dec","e":"1998-2013","v":0.37},
{"p":"DIN","m":"Dec","e":"1998-2013","v":0.31},
{"p":"TP","m":"Jan","e":"1987-1997","v":0.26},{"p":"TP","m":"Feb","e":"1975-1986","v":0.45},
{"p":"TP","m":"Feb","e":"1987-1997","v":0.29},{"p":"TP","m":"Feb","e":"1987-1997","v":0.10},
{"p":"TP","m":"Feb","e":"1998-2013","v":0.26},{"p":"TP","m":"Mar","e":"1975-1986","v":0.435},
{"p":"TP","m":"Mar","e":"1987-1997","v":0.27},{"p":"TP","m":"Mar","e":"1998-2013","v":0.22},
{"p":"TP","m":"Apr","e":"1975-1986","v":0.255},{"p":"TP","m":"Apr","e":"1975-1986","v":0.20},
{"p":"TP","m":"Jun","e":"1998-2013","v":0.039},{"p":"TP","m":"Jul","e":"1987-1997","v":0.34},
{"p":"TP","m":"Aug","e":"1975-1986","v":0.32},{"p":"TP","m":"Aug","e":"1975-1986","v":0.29},
{"p":"TP","m":"Aug","e":"1998-2013","v":0.27},{"p":"TP","m":"Sep","e":"1998-2013","v":0.32},
{"p":"TP","m":"Oct","e":"1975-1986","v":0.11},{"p":"TP","m":"Oct","e":"1998-2013","v":0.18},
{"p":"TP","m":"Nov","e":"1998-2013","v":0.16},{"p":"TP","m":"Nov","e":"1998-2013","v":0.09},
{"p":"TP","m":"Dec","e":"1975-1986","v":0.32},{"p":"TP","m":"Dec","e":"1975-1986","v":0.29},
{"p":"TP","m":"Dec","e":"1987-1997","v":0.28},
{"p":"NH3","m":"Feb","e":"1975-1986","v":0.16},{"p":"NH3","m":"Apr","e":"1975-1986","v":0.115},
{"p":"NH3","m":"May","e":"1975-1986","v":0.085},{"p":"NH3","m":"Jul","e":"1975-1986","v":0.09},
{"p":"NH3","m":"Jul","e":"1998-2013","v":0.005},{"p":"NH3","m":"Aug","e":"1987-1997","v":0.158},
{"p":"NH3","m":"Aug","e":"1998-2013","v":0.10},{"p":"NH3","m":"Sep","e":"1975-1986","v":0.19},
{"p":"NH3","m":"Sep","e":"1987-1997","v":0.115},{"p":"NH3","m":"Sep","e":"1998-2013","v":0.10},
{"p":"NH3","m":"Oct","e":"1975-1986","v":0.225},{"p":"NH3","m":"Oct","e":"1987-1997","v":0.145},
{"p":"NH3","m":"Dec","e":"1998-2013","v":0.06},
{"p":"PO4","m":"Jan","e":"1998-2013","v":3.1},{"p":"PO4","m":"Sep","e":"1998-2013","v":4.6},
{"p":"PO4","m":"Oct","e":"1998-2013","v":12.1},{"p":"PO4","m":"Dec","e":"1998-2013","v":12.1},
{"p":"PO4","m":"Dec","e":"1998-2013","v":4.0},{"p":"PO4","m":"Dec","e":"1998-2013","v":3.1},
{"p":"NO3","m":"Jan","e":"1975-1986","v":1.91},{"p":"NO3","m":"Jan","e":"1987-1997","v":1.21},
{"p":"NO3","m":"Mar","e":"1975-1986","v":0.75},{"p":"NO3","m":"Apr","e":"1987-1997","v":1.30},
{"p":"NO3","m":"May","e":"1975-1986","v":0.59},{"p":"NO3","m":"Jul","e":"1975-1986","v":0.35},
{"p":"NO3","m":"Jul","e":"1975-1986","v":0.01},{"p":"NO3","m":"Aug","e":"1975-1986","v":0.54},
{"p":"NO3","m":"Oct","e":"1998-2013","v":0.50},{"p":"NO3","m":"Nov","e":"1975-1986","v":0.54},
{"p":"NO3","m":"Nov","e":"1987-1997","v":0.17},{"p":"NO3","m":"Nov","e":"1998-2013","v":0.29},
{"p":"NO3","m":"Dec","e":"1975-1986","v":0.66},{"p":"NO3","m":"Dec","e":"1998-2013","v":0.24},
{"p":"NO3","m":"Dec","e":"1998-2013","v":0.22},
{"p":"CHL","m":"Jan","e":"1987-1997","v":2.4},{"p":"CHL","m":"Feb","e":"1975-1986","v":7.0},
{"p":"CHL","m":"Feb","e":"1975-1986","v":35.0},{"p":"CHL","m":"Feb","e":"1998-2013","v":8.0},
{"p":"CHL","m":"Mar","e":"1975-1986","v":20.1},{"p":"CHL","m":"Mar","e":"1998-2013","v":12.0},
{"p":"CHL","m":"Apr","e":"1975-1986","v":12.8},{"p":"CHL","m":"Apr","e":"1998-2013","v":30.5},
{"p":"CHL","m":"Jun","e":"1975-1986","v":43.9},{"p":"CHL","m":"Jun","e":"1987-1997","v":12.5},
{"p":"CHL","m":"Jun","e":"1998-2013","v":12.5},{"p":"CHL","m":"Jul","e":"1975-1986","v":69.0},
{"p":"CHL","m":"Jul","e":"1987-1997","v":4.5},{"p":"CHL","m":"Jul","e":"1998-2013","v":4.5},
{"p":"CHL","m":"Aug","e":"1975-1986","v":40.0},{"p":"CHL","m":"Aug","e":"1987-1997","v":6.0},
{"p":"CHL","m":"Aug","e":"1987-1997","v":5.0},{"p":"CHL","m":"Aug","e":"1987-1997","v":0.3},
{"p":"CHL","m":"Sep","e":"1975-1986","v":52.0},{"p":"CHL","m":"Sep","e":"1987-1997","v":4.3},
{"p":"CHL","m":"Sep","e":"1998-2013","v":5.9},{"p":"CHL","m":"Oct","e":"1975-1986","v":43.0},
{"p":"CHL","m":"Dec","e":"1975-1986","v":12.1},{"p":"CHL","m":"Dec","e":"1975-1986","v":7.9},
{"p":"TN","m":"Jan","e":"1975-1986","v":3.92},{"p":"TN","m":"Jan","e":"1987-1997","v":1.81},
{"p":"TN","m":"Jan","e":"1998-2013","v":0.32},{"p":"TN","m":"Feb","e":"1998-2013","v":1.48},
{"p":"TN","m":"Feb","e":"1998-2013","v":1.27},{"p":"TN","m":"Feb","e":"1998-2013","v":0.58},
{"p":"TN","m":"Apr","e":"1975-1986","v":1.12},{"p":"TN","m":"Apr","e":"1987-1997","v":2.30},
{"p":"TN","m":"May","e":"1998-2013","v":0.32},{"p":"TN","m":"Jul","e":"1975-1986","v":1.52},
{"p":"TN","m":"Jul","e":"1998-2013","v":1.58},{"p":"TN","m":"Aug","e":"1975-1986","v":1.83},
{"p":"TN","m":"Aug","e":"1998-2013","v":1.28},{"p":"TN","m":"Sep","e":"1998-2013","v":1.12},
{"p":"TN","m":"Oct","e":"1975-1986","v":1.02},{"p":"TN","m":"Oct","e":"1987-1997","v":1.22},
{"p":"TN","m":"Oct","e":"1998-2013","v":1.48},{"p":"TN","m":"Nov","e":"1987-1997","v":1.28},
{"p":"TN","m":"Nov","e":"1987-1997","v":1.16},
{"p":"NP","m":"Jan","e":"1975-1986","v":29.6},{"p":"NP","m":"Feb","e":"1998-2011","v":15.3},
{"p":"NP","m":"Feb","e":"1998-2011","v":14.8},{"p":"NP","m":"Mar","e":"1987-1997","v":14.2},
{"p":"NP","m":"Apr","e":"1998-2011","v":23.5},{"p":"NP","m":"Apr","e":"1998-2011","v":14.3},
{"p":"NP","m":"Apr","e":"1998-2011","v":4.0},{"p":"NP","m":"May","e":"1975-1986","v":2.6},
{"p":"NP","m":"May","e":"1987-1997","v":9.0},{"p":"NP","m":"Aug","e":"1987-1997","v":2.4},
{"p":"NP","m":"Aug","e":"1998-2011","v":7.1},{"p":"NP","m":"Aug","e":"1998-2011","v":6.5},
{"p":"NP","m":"Oct","e":"1975-1986","v":7.3},{"p":"NP","m":"Oct","e":"1975-1986","v":6.7},
{"p":"NP","m":"Oct","e":"1987-1997","v":8.8},{"p":"NP","m":"Dec","e":"1998-2011","v":13.0},
{"p":"NP","m":"Dec","e":"1998-2011","v":6.0}
]
},
"spacing":44,
"resolve":{"scale":{"fill":"independent","stroke":"independent","xOffset":"independent"},"legend":{"fill":"independent","stroke":"independent"}},
"vconcat":[
{"spacing":27,
 "resolve":{"scale":{"fill":"independent","stroke":"independent","xOffset":"independent"},"legend":{"fill":"independent","stroke":"independent"}},
 "vconcat":[
 {"spacing":9,
  "resolve":{"scale":{"fill":"independent","stroke":"independent","xOffset":"independent"},"legend":{"fill":"independent","stroke":"independent"}},
  "hconcat":[
  {"width":512,"height":338,"layer":[
   {"data":{"name":"box"},"transform":[{"filter":"datum.p=='DIN'"}],"mark":{"type":"rule","color":"#6E6E6E","strokeWidth":0.9},
    "encoding":{"x":{"field":"m","type":"nominal","title":null,"scale":{"domain":["Jan","Feb","Mar","Apr","May","Jun","Jul","Aug","Sep","Oct","Nov","Dec"],"paddingInner":0.12,"paddingOuter":0.14}},
     "xOffset":{"field":"e","type":"nominal","scale":{"paddingInner":0,"paddingOuter":0}},
     "y":{"field":"lo","type":"quantitative","title":"din at D7","scale":{"domain":[-0.08,2.17],"nice":false,"zero":false},
      "axis":{"values":[0,0.25,0.5,0.75,1,1.25,1.5,1.75,2],"labelExpr":"abs(datum.value*2-round(datum.value*2))<0.01 ? format(datum.value,'.1f') : ''","gridWidth":{"condition":{"test":"abs(datum.value*2-round(datum.value*2))<0.01","value":1.2},"value":0.5},"tickOpacity":{"condition":{"test":"abs(datum.value*2-round(datum.value*2))<0.01","value":1},"value":0}}},
     "y2":{"field":"hi"}}},
   {"data":{"name":"box"},"transform":[{"filter":"datum.p=='DIN'"}],"mark":{"type":"bar","strokeWidth":0.9},
    "encoding":{"x":{"field":"m","type":"nominal","title":null},"xOffset":{"field":"e","type":"nominal"},
     "y":{"field":"q1","type":"quantitative","title":"din at D7"},"y2":{"field":"q3"},
     "fill":{"field":"e","type":"nominal","title":"era","scale":{"range":["#F4A7A3","#A8BFE0","#B9E6B2"]},"legend":null},
     "stroke":{"field":"e","type":"nominal","scale":{"range":["#B5716D","#6C87AD","#79A873"]},"legend":null}}},
   {"data":{"name":"box"},"transform":[{"filter":"datum.p=='DIN'"}],"mark":{"type":"bar","fillOpacity":0,"strokeWidth":1.8},
    "encoding":{"x":{"field":"m","type":"nominal","title":null},"xOffset":{"field":"e","type":"nominal"},
     "y":{"field":"md","type":"quantitative","title":"din at D7"},"y2":{"field":"md"},
     "stroke":{"field":"e","type":"nominal","legend":null}}},
   {"data":{"name":"out"},"transform":[{"filter":"datum.p=='DIN'"}],"mark":{"type":"point","filled":true,"size":9,"color":"#555555","opacity":0.85},
    "encoding":{"x":{"field":"m","type":"nominal","title":null},"xOffset":{"field":"e","type":"nominal"},"y":{"field":"v","type":"quantitative","title":"din at D7"}}},
   {"data":{"values":[{"t":"DIN","m":"Jun","v":1.84}]},"mark":{"type":"text","font":"Open Sans","fontWeight":"bold","fontSize":39,"dx":-5,"baseline":"middle","color":"#000000"},
    "encoding":{"x":{"field":"m","type":"nominal","title":null},"y":{"field":"v","type":"quantitative","title":"din at D7"},"text":{"field":"t"}}}
  ]},
  {"width":505,"height":338,"layer":[
   {"data":{"name":"box"},"transform":[{"filter":"datum.p=='TP'"}],"mark":{"type":"rule","color":"#6E6E6E","strokeWidth":0.9},
    "encoding":{"x":{"field":"m","type":"nominal","title":null,"scale":{"domain":["Jan","Feb","Mar","Apr","May","Jun","Jul","Aug","Sep","Oct","Nov","Dec"],"paddingInner":0.12,"paddingOuter":0.14}},
     "xOffset":{"field":"e","type":"nominal","scale":{"paddingInner":0,"paddingOuter":0}},
     "y":{"field":"lo","type":"quantitative","title":null,"scale":{"domain":[0.019,0.473],"nice":false,"zero":false},
      "axis":{"values":[0.05,0.1,0.15,0.2,0.25,0.3,0.35,0.4,0.45],"labelExpr":"abs(datum.value*10-round(datum.value*10))<0.01 ? format(datum.value,'.1f') : ''","gridWidth":{"condition":{"test":"abs(datum.value*10-round(datum.value*10))<0.01","value":1.2},"value":0.5},"tickOpacity":{"condition":{"test":"abs(datum.value*10-round(datum.value*10))<0.01","value":1},"value":0}}},
     "y2":{"field":"hi"}}},
   {"data":{"name":"box"},"transform":[{"filter":"datum.p=='TP'"}],"mark":{"type":"bar","strokeWidth":0.9},
    "encoding":{"x":{"field":"m","type":"nominal","title":null},"xOffset":{"field":"e","type":"nominal"},
     "y":{"field":"q1","type":"quantitative","title":null},"y2":{"field":"q3"},
     "fill":{"field":"e","type":"nominal","title":"era","scale":{"range":["#F4A7A3","#A8BFE0","#B9E6B2"]},"legend":null},
     "stroke":{"field":"e","type":"nominal","scale":{"range":["#B5716D","#6C87AD","#79A873"]},"legend":null}}},
   {"data":{"name":"box"},"transform":[{"filter":"datum.p=='TP'"}],"mark":{"type":"bar","fillOpacity":0,"strokeWidth":1.8},
    "encoding":{"x":{"field":"m","type":"nominal","title":null},"xOffset":{"field":"e","type":"nominal"},
     "y":{"field":"md","type":"quantitative","title":null},"y2":{"field":"md"},
     "stroke":{"field":"e","type":"nominal","legend":null}}},
   {"data":{"name":"out"},"transform":[{"filter":"datum.p=='TP'"}],"mark":{"type":"point","filled":true,"size":9,"color":"#555555","opacity":0.85},
    "encoding":{"x":{"field":"m","type":"nominal","title":null},"xOffset":{"field":"e","type":"nominal"},"y":{"field":"v","type":"quantitative","title":null}}},
   {"data":{"values":[{"t":"TP","m":"Jul","v":0.42}]},"mark":{"type":"text","font":"Open Sans","fontWeight":"bold","fontSize":39,"dx":-6,"baseline":"middle","color":"#000000"},
    "encoding":{"x":{"field":"m","type":"nominal","title":null},"y":{"field":"v","type":"quantitative","title":null},"text":{"field":"t"}}}
  ]}
 ]},
 {"spacing":9,
  "resolve":{"scale":{"fill":"independent","stroke":"independent","xOffset":"independent"},"legend":{"fill":"independent","stroke":"independent"}},
  "hconcat":[
  {"width":512,"height":345,"layer":[
   {"data":{"name":"box"},"transform":[{"filter":"datum.p=='NH3'"}],"mark":{"type":"rule","color":"#6E6E6E","strokeWidth":0.9},
    "encoding":{"x":{"field":"m","type":"nominal","title":null,"scale":{"domain":["Jan","Feb","Mar","Apr","May","Jun","Jul","Aug","Sep","Oct","Nov","Dec"],"paddingInner":0.12,"paddingOuter":0.14}},
     "xOffset":{"field":"e","type":"nominal","scale":{"paddingInner":0,"paddingOuter":0}},
     "y":{"field":"lo","type":"quantitative","title":"nh at D7","scale":{"domain":[-0.006,0.262],"nice":false,"zero":false},
      "axis":{"values":[0,0.025,0.05,0.075,0.1,0.125,0.15,0.175,0.2,0.225,0.25],"labelExpr":"abs(datum.value*20-round(datum.value*20))<0.01 ? format(datum.value,'.2f') : ''","gridWidth":{"condition":{"test":"abs(datum.value*20-round(datum.value*20))<0.01","value":1.2},"value":0.5},"tickOpacity":{"condition":{"test":"abs(datum.value*20-round(datum.value*20))<0.01","value":1},"value":0}}},
     "y2":{"field":"hi"}}},
   {"data":{"name":"box"},"transform":[{"filter":"datum.p=='NH3'"}],"mark":{"type":"bar","strokeWidth":0.9},
    "encoding":{"x":{"field":"m","type":"nominal","title":null},"xOffset":{"field":"e","type":"nominal"},
     "y":{"field":"q1","type":"quantitative","title":"nh at D7"},"y2":{"field":"q3"},
     "fill":{"field":"e","type":"nominal","title":"era","scale":{"range":["#F4A7A3","#A8BFE0","#B9E6B2"]},"legend":null},
     "stroke":{"field":"e","type":"nominal","scale":{"range":["#B5716D","#6C87AD","#79A873"]},"legend":null}}},
   {"data":{"name":"box"},"transform":[{"filter":"datum.p=='NH3'"}],"mark":{"type":"bar","fillOpacity":0,"strokeWidth":1.8},
    "encoding":{"x":{"field":"m","type":"nominal","title":null},"xOffset":{"field":"e","type":"nominal"},
     "y":{"field":"md","type":"quantitative","title":"nh at D7"},"y2":{"field":"md"},
     "stroke":{"field":"e","type":"nominal","legend":null}}},
   {"data":{"name":"out"},"transform":[{"filter":"datum.p=='NH3'"}],"mark":{"type":"point","filled":true,"size":9,"color":"#555555","opacity":0.85},
    "encoding":{"x":{"field":"m","type":"nominal","title":null},"xOffset":{"field":"e","type":"nominal"},"y":{"field":"v","type":"quantitative","title":"nh at D7"}}},
   {"data":{"values":[{"t":"NH₃-N","m":"Jun","v":0.212}]},"mark":{"type":"text","font":"Open Sans","fontWeight":"bold","fontSize":39,"dx":15,"baseline":"middle","color":"#000000"},
    "encoding":{"x":{"field":"m","type":"nominal","title":null},"y":{"field":"v","type":"quantitative","title":"nh at D7"},"text":{"field":"t"}}}
  ]},
  {"width":505,"height":345,"layer":[
   {"data":{"name":"box"},"transform":[{"filter":"datum.p=='PO4'"}],"mark":{"type":"rule","color":"#6E6E6E","strokeWidth":0.9},
    "encoding":{"x":{"field":"m","type":"nominal","title":null,"scale":{"domain":["Jan","Feb","Mar","Apr","May","Jun","Jul","Aug","Sep","Oct","Nov","Dec"],"paddingInner":0.12,"paddingOuter":0.14}},
     "xOffset":{"field":"e","type":"nominal","scale":{"paddingInner":0,"paddingOuter":0}},
     "y":{"field":"lo","type":"quantitative","title":null,"scale":{"domain":[1.1,24.1],"nice":false,"zero":false},
      "axis":{"values":[2.5,5,7.5,10,12.5,15,17.5,20,22.5],"labelExpr":"datum.value%5==0 ? (datum.value<10 ? '0'+datum.value : ''+datum.value) : ''","gridWidth":{"condition":{"test":"datum.value%5==0","value":1.2},"value":0.5},"tickOpacity":{"condition":{"test":"datum.value%5==0","value":1},"value":0}}},
     "y2":{"field":"hi"}}},
   {"data":{"name":"box"},"transform":[{"filter":"datum.p=='PO4'"}],"mark":{"type":"bar","strokeWidth":0.9},
    "encoding":{"x":{"field":"m","type":"nominal","title":null},"xOffset":{"field":"e","type":"nominal"},
     "y":{"field":"q1","type":"quantitative","title":null},"y2":{"field":"q3"},
     "fill":{"field":"e","type":"nominal","title":"era","scale":{"range":["#F4A7A3","#A8BFE0","#B9E6B2"]},"legend":{"orient":"none","legendX":510,"legendY":141}},
     "stroke":{"field":"e","type":"nominal","scale":{"range":["#B5716D","#6C87AD","#79A873"]},"legend":null}}},
   {"data":{"name":"box"},"transform":[{"filter":"datum.p=='PO4'"}],"mark":{"type":"bar","fillOpacity":0,"strokeWidth":1.8},
    "encoding":{"x":{"field":"m","type":"nominal","title":null},"xOffset":{"field":"e","type":"nominal"},
     "y":{"field":"md","type":"quantitative","title":null},"y2":{"field":"md"},
     "stroke":{"field":"e","type":"nominal","legend":null}}},
   {"data":{"name":"out"},"transform":[{"filter":"datum.p=='PO4'"}],"mark":{"type":"point","filled":true,"size":9,"color":"#555555","opacity":0.85},
    "encoding":{"x":{"field":"m","type":"nominal","title":null},"xOffset":{"field":"e","type":"nominal"},"y":{"field":"v","type":"quantitative","title":null}}},
   {"data":{"values":[{"t":"PO₄","m":"Jun","v":18.7}]},"mark":{"type":"text","font":"Open Sans","fontWeight":"bold","fontSize":39,"dx":17,"baseline":"middle","color":"#000000"},
    "encoding":{"x":{"field":"m","type":"nominal","title":null},"y":{"field":"v","type":"quantitative","title":null},"text":{"field":"t"}}}
  ]}
 ]}
]},
{"spacing":17,
 "resolve":{"scale":{"fill":"independent","stroke":"independent","xOffset":"independent"},"legend":{"fill":"independent","stroke":"independent"}},
 "vconcat":[
 {"spacing":9,
  "resolve":{"scale":{"fill":"independent","stroke":"independent","xOffset":"independent"},"legend":{"fill":"independent","stroke":"independent"}},
  "hconcat":[
  {"width":497,"height":324,"layer":[
   {"data":{"name":"box"},"transform":[{"filter":"datum.p=='NO3'"}],"mark":{"type":"rule","color":"#6E6E6E","strokeWidth":0.9},
    "encoding":{"x":{"field":"m","type":"nominal","title":null,"scale":{"domain":["Jan","Feb","Mar","Apr","May","Jun","Jul","Aug","Sep","Oct","Nov","Dec"],"paddingInner":0.12,"paddingOuter":0.14}},
     "xOffset":{"field":"e","type":"nominal","scale":{"paddingInner":0,"paddingOuter":0}},
     "y":{"field":"lo","type":"quantitative","title":"nn at D7","scale":{"domain":[-0.063,1.97],"nice":false,"zero":false},
      "axis":{"values":[0,0.25,0.5,0.75,1,1.25,1.5,1.75],"labelExpr":"abs(datum.value*2-round(datum.value*2))<0.01 ? format(datum.value,'.1f') : ''","gridWidth":{"condition":{"test":"abs(datum.value*2-round(datum.value*2))<0.01","value":1.2},"value":0.5},"tickOpacity":{"condition":{"test":"abs(datum.value*2-round(datum.value*2))<0.01","value":1},"value":0}}},
     "y2":{"field":"hi"}}},
   {"data":{"name":"box"},"transform":[{"filter":"datum.p=='NO3'"}],"mark":{"type":"bar","strokeWidth":0.9},
    "encoding":{"x":{"field":"m","type":"nominal","title":null},"xOffset":{"field":"e","type":"nominal"},
     "y":{"field":"q1","type":"quantitative","title":"nn at D7"},"y2":{"field":"q3"},
     "fill":{"field":"e","type":"nominal","title":"era","scale":{"range":["#F4A7A3","#A8BFE0","#B9E6B2"]},"legend":null},
     "stroke":{"field":"e","type":"nominal","scale":{"range":["#B5716D","#6C87AD","#79A873"]},"legend":null}}},
   {"data":{"name":"box"},"transform":[{"filter":"datum.p=='NO3'"}],"mark":{"type":"bar","fillOpacity":0,"strokeWidth":1.8},
    "encoding":{"x":{"field":"m","type":"nominal","title":null},"xOffset":{"field":"e","type":"nominal"},
     "y":{"field":"md","type":"quantitative","title":"nn at D7"},"y2":{"field":"md"},
     "stroke":{"field":"e","type":"nominal","legend":null}}},
   {"data":{"name":"out"},"transform":[{"filter":"datum.p=='NO3'"}],"mark":{"type":"point","filled":true,"size":9,"color":"#555555","opacity":0.85},
    "encoding":{"x":{"field":"m","type":"nominal","title":null},"xOffset":{"field":"e","type":"nominal"},"y":{"field":"v","type":"quantitative","title":"nn at D7"}}},
   {"data":{"values":[{"t":"NO₃-N","m":"Jul","v":1.63}]},"mark":{"type":"text","font":"Open Sans","fontWeight":"bold","fontSize":39,"dx":11,"baseline":"middle","color":"#000000"},
    "encoding":{"x":{"field":"m","type":"nominal","title":null},"y":{"field":"v","type":"quantitative","title":"nn at D7"},"text":{"field":"t"}}}
  ]},
  {"width":505,"height":324,"layer":[
   {"data":{"name":"box"},"transform":[{"filter":"datum.p=='CHL'"}],"mark":{"type":"rule","color":"#6E6E6E","strokeWidth":0.9},
    "encoding":{"x":{"field":"m","type":"nominal","title":null,"scale":{"domain":["Jan","Feb","Mar","Apr","May","Jun","Jul","Aug","Sep","Oct","Nov","Dec"],"paddingInner":0.12,"paddingOuter":0.14}},
     "xOffset":{"field":"e","type":"nominal","scale":{"paddingInner":0,"paddingOuter":0}},
     "y":{"field":"lo","type":"quantitative","title":"chl at D7","scale":{"domain":[-1.1,72.3],"nice":false,"zero":false},
      "axis":{"values":[0,10,20,30,40,50,60,70],"labelExpr":"datum.value%20==0 ? ''+datum.value : ''","gridWidth":{"condition":{"test":"datum.value%20==0","value":1.2},"value":0.5},"tickOpacity":{"condition":{"test":"datum.value%20==0","value":1},"value":0}}},
     "y2":{"field":"hi"}}},
   {"data":{"name":"box"},"transform":[{"filter":"datum.p=='CHL'"}],"mark":{"type":"bar","strokeWidth":0.9},
    "encoding":{"x":{"field":"m","type":"nominal","title":null},"xOffset":{"field":"e","type":"nominal"},
     "y":{"field":"q1","type":"quantitative","title":"chl at D7"},"y2":{"field":"q3"},
     "fill":{"field":"e","type":"nominal","title":"era","scale":{"range":["#F4A7A3","#A8BFE0","#B9E6B2"]},"legend":{"orient":"none","legendX":521,"legendY":134}},
     "stroke":{"field":"e","type":"nominal","scale":{"range":["#B5716D","#6C87AD","#79A873"]},"legend":null}}},
   {"data":{"name":"box"},"transform":[{"filter":"datum.p=='CHL'"}],"mark":{"type":"bar","fillOpacity":0,"strokeWidth":1.8},
    "encoding":{"x":{"field":"m","type":"nominal","title":null},"xOffset":{"field":"e","type":"nominal"},
     "y":{"field":"md","type":"quantitative","title":"chl at D7"},"y2":{"field":"md"},
     "stroke":{"field":"e","type":"nominal","legend":null}}},
   {"data":{"name":"out"},"transform":[{"filter":"datum.p=='CHL'"}],"mark":{"type":"point","filled":true,"size":9,"color":"#555555","opacity":0.85},
    "encoding":{"x":{"field":"m","type":"nominal","title":null},"xOffset":{"field":"e","type":"nominal"},"y":{"field":"v","type":"quantitative","title":"chl at D7"}}},
   {"data":{"values":[{"t":"Chl-a","m":"Jul","v":59.8}]},"mark":{"type":"text","font":"Open Sans","fontWeight":"bold","fontSize":39,"dx":19,"baseline":"middle","color":"#000000"},
    "encoding":{"x":{"field":"m","type":"nominal","title":null},"y":{"field":"v","type":"quantitative","title":"chl at D7"},"text":{"field":"t"}}}
  ]}
 ]},
 {"spacing":9,
  "resolve":{"scale":{"fill":"independent","stroke":"independent","xOffset":"independent"},"legend":{"fill":"independent","stroke":"independent"}},
  "hconcat":[
  {"width":512,"height":335,"layer":[
   {"data":{"name":"box"},"transform":[{"filter":"datum.p=='TN'"}],"mark":{"type":"rule","color":"#6E6E6E","strokeWidth":0.9},
    "encoding":{"x":{"field":"m","type":"nominal","title":null,"scale":{"domain":["Jan","Feb","Mar","Apr","May","Jun","Jul","Aug","Sep","Oct","Nov","Dec"],"paddingInner":0.12,"paddingOuter":0.14},"axis":{"labels":true,"labelPadding":3,"labelAngle":0}},
     "xOffset":{"field":"e","type":"nominal","scale":{"paddingInner":0,"paddingOuter":0}},
     "y":{"field":"lo","type":"quantitative","title":"tn at D7","scale":{"domain":[0.107,4.1],"nice":false,"zero":false},
      "axis":{"values":[0.5,1,1.5,2,2.5,3,3.5,4],"labelExpr":"datum.value%1==0 ? ''+datum.value : ''","gridWidth":{"condition":{"test":"datum.value%1==0","value":1.2},"value":0.5},"tickOpacity":{"condition":{"test":"datum.value%1==0","value":1},"value":0}}},
     "y2":{"field":"hi"}}},
   {"data":{"name":"box"},"transform":[{"filter":"datum.p=='TN'"}],"mark":{"type":"bar","strokeWidth":0.9},
    "encoding":{"x":{"field":"m","type":"nominal","title":null},"xOffset":{"field":"e","type":"nominal"},
     "y":{"field":"q1","type":"quantitative","title":"tn at D7"},"y2":{"field":"q3"},
     "fill":{"field":"e","type":"nominal","title":"era","scale":{"range":["#F4A7A3","#A8BFE0","#B9E6B2"]},"legend":null},
     "stroke":{"field":"e","type":"nominal","scale":{"range":["#B5716D","#6C87AD","#79A873"]},"legend":null}}},
   {"data":{"name":"box"},"transform":[{"filter":"datum.p=='TN'"}],"mark":{"type":"bar","fillOpacity":0,"strokeWidth":1.8},
    "encoding":{"x":{"field":"m","type":"nominal","title":null},"xOffset":{"field":"e","type":"nominal"},
     "y":{"field":"md","type":"quantitative","title":"tn at D7"},"y2":{"field":"md"},
     "stroke":{"field":"e","type":"nominal","legend":null}}},
   {"data":{"name":"out"},"transform":[{"filter":"datum.p=='TN'"}],"mark":{"type":"point","filled":true,"size":9,"color":"#555555","opacity":0.85},
    "encoding":{"x":{"field":"m","type":"nominal","title":null},"xOffset":{"field":"e","type":"nominal"},"y":{"field":"v","type":"quantitative","title":"tn at D7"}}},
   {"data":{"values":[{"t":"TN","m":"Jun","v":3.1}]},"mark":{"type":"text","font":"Open Sans","fontWeight":"bold","fontSize":39,"dx":-5,"baseline":"middle","color":"#000000"},
    "encoding":{"x":{"field":"m","type":"nominal","title":null},"y":{"field":"v","type":"quantitative","title":"tn at D7"},"text":{"field":"t"}}}
  ]},
  {"width":505,"height":335,"layer":[
   {"data":{"name":"box"},"transform":[{"filter":"datum.p=='NP'"}],"mark":{"type":"rule","color":"#6E6E6E","strokeWidth":0.9},
    "encoding":{"x":{"field":"m","type":"nominal","title":null,"scale":{"domain":["Jan","Feb","Mar","Apr","May","Jun","Jul","Aug","Sep","Oct","Nov","Dec"],"paddingInner":0.12,"paddingOuter":0.14},"axis":{"labels":true,"labelPadding":3,"labelAngle":0}},
     "xOffset":{"field":"e","type":"nominal","scale":{"paddingInner":0,"paddingOuter":0}},
     "y":{"field":"lo","type":"quantitative","title":null,"scale":{"domain":[-0.7,31.0],"nice":false,"zero":false},
      "axis":{"values":[0,5,10,15,20,25,30],"labelExpr":"datum.value%10==0 ? ''+datum.value : ''","gridWidth":{"condition":{"test":"datum.value%10==0","value":1.2},"value":0.5},"tickOpacity":{"condition":{"test":"datum.value%10==0","value":1},"value":0}}},
     "y2":{"field":"hi"}}},
   {"data":{"name":"box"},"transform":[{"filter":"datum.p=='NP'"}],"mark":{"type":"bar","strokeWidth":0.9},
    "encoding":{"x":{"field":"m","type":"nominal","title":null},"xOffset":{"field":"e","type":"nominal"},
     "y":{"field":"q1","type":"quantitative","title":null},"y2":{"field":"q3"},
     "fill":{"field":"e","type":"nominal","title":"era","scale":{"range":["#F4A7A3","#A8BFE0","#B9E6B2"]},"legend":{"orient":"none","legendX":522,"legendY":139}},
     "stroke":{"field":"e","type":"nominal","scale":{"range":["#B5716D","#6C87AD","#79A873"]},"legend":null}}},
   {"data":{"name":"box"},"transform":[{"filter":"datum.p=='NP'"}],"mark":{"type":"bar","fillOpacity":0,"strokeWidth":1.8},
    "encoding":{"x":{"field":"m","type":"nominal","title":null},"xOffset":{"field":"e","type":"nominal"},
     "y":{"field":"md","type":"quantitative","title":null},"y2":{"field":"md"},
     "stroke":{"field":"e","type":"nominal","legend":null}}},
   {"data":{"name":"out"},"transform":[{"filter":"datum.p=='NP'"}],"mark":{"type":"point","filled":true,"size":9,"color":"#555555","opacity":0.85},
    "encoding":{"x":{"field":"m","type":"nominal","title":null},"xOffset":{"field":"e","type":"nominal"},"y":{"field":"v","type":"quantitative","title":null}}},
   {"data":{"values":[{"t":"N:P","m":"Jul","v":20.5}]},"mark":{"type":"text","font":"Open Sans","fontWeight":"bold","fontSize":39,"dx":11,"baseline":"middle","color":"#000000"},
    "encoding":{"x":{"field":"m","type":"nominal","title":null},"y":{"field":"v","type":"quantitative","title":null},"text":{"field":"t"}}}
  ]}
 ]}
]}
]
}
